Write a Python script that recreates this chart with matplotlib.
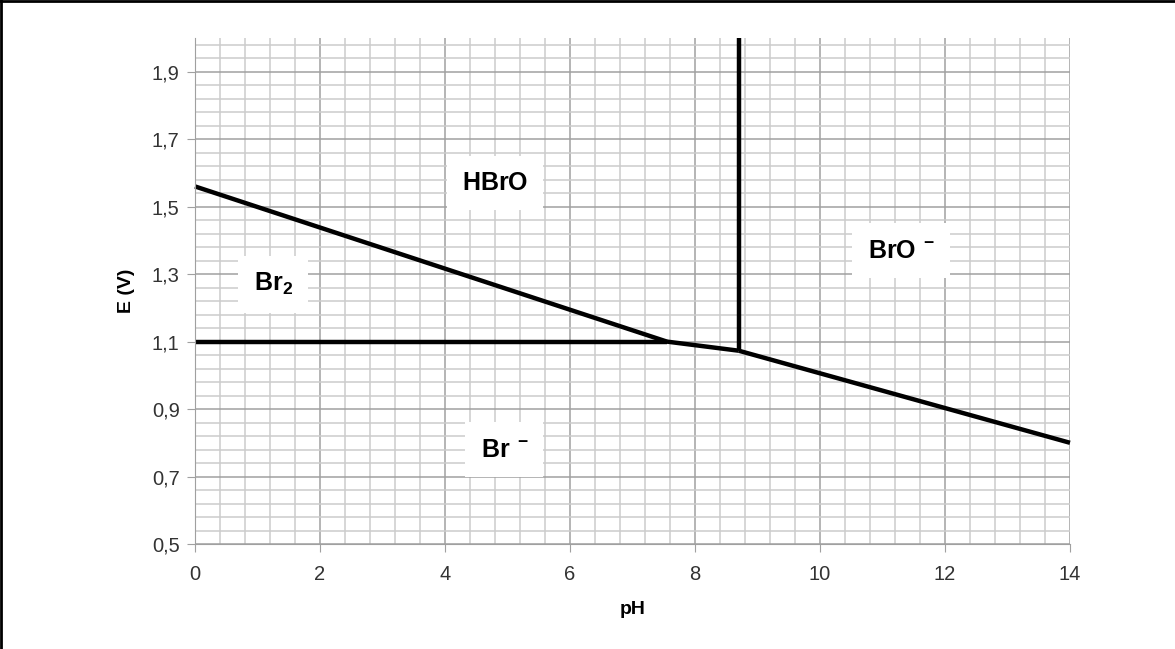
import matplotlib.pyplot as plt
import numpy as np
from matplotlib.lines import Line2D
from matplotlib.ticker import MultipleLocator, FuncFormatter

plt.rcParams['font.family'] = ['Liberation Sans', 'DejaVu Sans']
plt.rcParams['mathtext.fontset'] = 'custom'
plt.rcParams['mathtext.rm'] = 'Liberation Sans'
plt.rcParams['mathtext.bf'] = 'Liberation Sans:bold'

# boundary lines of the Pourbaix diagram (pH, E)
br2_brm_ph = [0, 7.55]
br2_brm_e = [1.10, 1.10]
hbro_br2_ph = [0, 7.55]
hbro_br2_e = [1.56, 1.10]
hbro_brm_ph = [7.55, 8.7]
hbro_brm_e = [1.10, 1.073]
hbro_bro_ph = [8.7, 8.7]
hbro_bro_e = [1.073, 2.0]
bro_brm_ph = [8.7, 14]
bro_brm_e = [1.073, 0.80]

# region labels
labels = [r'$\mathbf{HBrO}$', r'$\mathbf{Br_2}$', r'$\mathbf{Br}\ ^{\mathbf{-}}$', r'$\mathbf{BrO}\ ^{\mathbf{-}}$']
label_ph = [4.8, 1.25, 4.95, 11.3]
label_e = [1.57, 1.27, 0.78, 1.37]

fig = plt.figure(figsize=(11.75, 6.49), dpi=100)
ax = fig.add_axes([195/1175, 1 - 544/649, 875/1175, 506/649])

ax.set_xlim(0, 14)
ax.set_ylim(0.5, 2.0)

ax.xaxis.set_major_locator(MultipleLocator(2))
ax.xaxis.set_minor_locator(MultipleLocator(0.4))
ax.set_yticks(np.arange(0.5, 1.95, 0.2))
ax.set_yticks(np.arange(0.5, 1.999, 0.04), minor=True)

ax.grid(which='major', color='#a0a0a0', lw=1.1)
ax.grid(which='minor', color='#cccccc', lw=1.1)
ax.set_axisbelow(True)

for s in ['top', 'right']:
    ax.spines[s].set_visible(False)
for s in ['left', 'bottom']:
    ax.spines[s].set_color('#a0a0a0')

ax.xaxis.set_major_formatter(FuncFormatter(lambda v, p: '%d' % round(v)))
ax.yaxis.set_major_formatter(FuncFormatter(lambda v, p: ('%.1f' % v).replace('.', ',')))
ax.tick_params(which='major', length=6, color='#a0a0a0', labelsize=14.5, labelcolor='#333333')
ax.tick_params(which='minor', length=0)
ax.tick_params(axis='x', pad=9)
ax.tick_params(axis='y', pad=5)

for xs, ys in [(br2_brm_ph, br2_brm_e), (hbro_br2_ph, hbro_br2_e), (hbro_brm_ph, hbro_brm_e),
               (hbro_bro_ph, hbro_bro_e), (bro_brm_ph, bro_brm_e)]:
    ax.plot(xs, ys, color='black', lw=3.2, solid_capstyle='butt', clip_on=False)

for t, x, y in zip(labels, label_ph, label_e):
    ax.text(x, y, t, fontsize=18, ha='center', va='center',
            bbox=dict(facecolor='white', edgecolor='none', pad=11))

ax.set_xlabel('pH', fontsize=14, fontweight='bold', labelpad=12)
ax.set_ylabel('E (V)', fontsize=14, fontweight='bold', labelpad=12)

fig.add_artist(Line2D([0, 1], [0.999, 0.999], transform=fig.transFigure, color='black', lw=2))
fig.add_artist(Line2D([0.001, 0.001], [0, 1], transform=fig.transFigure, color='black', lw=2))

fig.savefig('out.png', dpi=100)
